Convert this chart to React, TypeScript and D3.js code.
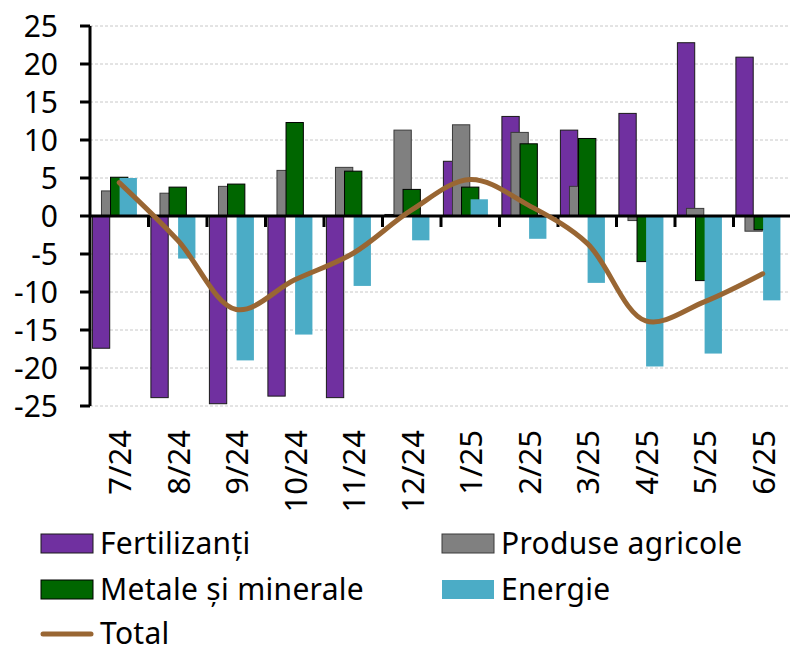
import React from 'react';
import * as d3 from 'd3';

const categories = ['7/24', '8/24', '9/24', '10/24', '11/24', '12/24', '1/25', '2/25', '3/25', '4/25', '5/25', '6/25'];
const fertilizanti = [-17.4, -23.9, -24.7, -23.7, -23.9, 0.2, 7.2, 13.1, 11.3, 13.5, 22.8, 20.9];
const produseAgricole = [3.3, 3.0, 3.9, 6.0, 6.4, 11.3, 12.0, 11.0, 3.9, -0.6, 1.0, -2.0];
const metaleMinerale = [5.1, 3.8, 4.2, 12.3, 5.9, 3.5, 3.8, 9.5, 10.2, -6.0, -8.5, -1.8];
const energie = [5.0, -5.6, -19.0, -15.6, -9.2, -3.2, 2.2, -3.0, -8.8, -19.8, -18.1, -11.1];
const total = [4.4, -3.2, -12.3, -8.4, -4.9, 0.8, 4.8, 1.4, -3.6, -13.8, -11.3, -7.6];
const yTicks = [-25, -20, -15, -10, -5, 0, 5, 10, 15, 20, 25];

const series = [
  { name: 'Fertilizanți', values: fertilizanti, fill: '#7030A0', stroke: '#1a1a1a' },
  { name: 'Produse agricole', values: produseAgricole, fill: '#808080', stroke: '#3a3a3a' },
  { name: 'Metale și minerale', values: metaleMinerale, fill: '#006600', stroke: '#000000' },
  { name: 'Energie', values: energie, fill: '#4BACC6', stroke: 'none' },
];

const FONT = '"Noto Sans", sans-serif';

const App = () => {
  const width = 790;
  const height = 647;
  const left = 90;
  const right = 792;
  const top = 26;
  const bottom = 406;

  const x = d3.scaleBand().domain(categories).range([left, right]).padding(0);
  const y = d3.scaleLinear().domain([-25, 25]).range([bottom, top]);
  const band = x.bandwidth();
  const inner = d3.scaleBand().domain(series.map(s => s.name)).range([band * 0.041, band * 0.041 + band * 0.62]);
  const barW = band * 0.296;

  const line = d3
    .line<number>()
    .x((_, i) => (x(categories[i]) as number) + band / 2)
    .y(d => y(d))
    .curve(d3.curveCatmullRom.alpha(0.5));

  const legend = [
    { name: series[0].name, fill: series[0].fill, stroke: series[0].stroke, lx: 41, ly: 554 },
    { name: series[1].name, fill: series[1].fill, stroke: series[1].stroke, lx: 442, ly: 554 },
    { name: series[2].name, fill: series[2].fill, stroke: series[2].stroke, lx: 41, ly: 600 },
    { name: series[3].name, fill: series[3].fill, stroke: series[3].stroke, lx: 442, ly: 600 },
  ];

  return (
    <svg width={width} height={height} style={{ position: 'absolute', left: 0, top: 0 }} fontFamily={FONT}>
      <rect width={width} height={height} fill="#fff" />
      {yTicks.map(t => (
        <line key={'g' + t} x1={left} x2={width} y1={y(t)} y2={y(t)} stroke="#c8c8c8" strokeWidth={1} strokeDasharray="3,2" />
      ))}
      {series.map(s => (
        <g key={s.name}>
          {s.values.map((v, i) => (
            <rect
              key={i}
              x={(x(categories[i]) as number) + (inner(s.name) as number)}
              y={Math.min(y(v), y(0))}
              width={barW}
              height={Math.abs(y(v) - y(0))}
              fill={s.fill}
              stroke={s.stroke}
              strokeWidth={1}
            />
          ))}
        </g>
      ))}
      <line x1={left} x2={width} y1={y(0)} y2={y(0)} stroke="#000" strokeWidth={3} />
      {categories.slice(1).map(c => (
        <line key={'t' + c} x1={x(c)} x2={x(c)} y1={y(0)} y2={y(0) + 11} stroke="#000" strokeWidth={3} />
      ))}
      <line x1={left} x2={left} y1={top} y2={bottom} stroke="#000" strokeWidth={3} />
      {yTicks.map(t => (
        <g key={'y' + t}>
          <line x1={left - 10} x2={left} y1={y(t)} y2={y(t)} stroke="#000" strokeWidth={3} />
          <text x={58} y={y(t)} dy="0.35em" textAnchor="end" fontSize={30} fill="#000">
            {t}
          </text>
        </g>
      ))}
      <path d={line(total) || ''} fill="none" stroke="#996633" strokeWidth={5} strokeLinecap="round" />
      {categories.map(c => {
        const cx = (x(c) as number) + band / 2 + 1;
        return (
          <text key={'x' + c} transform={`translate(${cx},430) rotate(-90)`} dy="0.35em" textAnchor="end" fontSize={31} fill="#000">
            {c}
          </text>
        );
      })}
      {legend.map(l => (
        <g key={'l' + l.name}>
          <rect x={l.lx} y={l.ly - 20} width={52} height={19} fill={l.fill} stroke={l.stroke} strokeWidth={1} />
          <text x={l.lx + 59} y={l.ly} fontSize={30} letterSpacing={0.3} fill="#000">
            {l.name}
          </text>
        </g>
      ))}
      <line x1={43} x2={91} y1={634} y2={634} stroke="#996633" strokeWidth={5} strokeLinecap="round" />
      <text x={100} y={644} fontSize={30} letterSpacing={0.3} fill="#000">
        Total
      </text>
    </svg>
  );
};

export default App;
